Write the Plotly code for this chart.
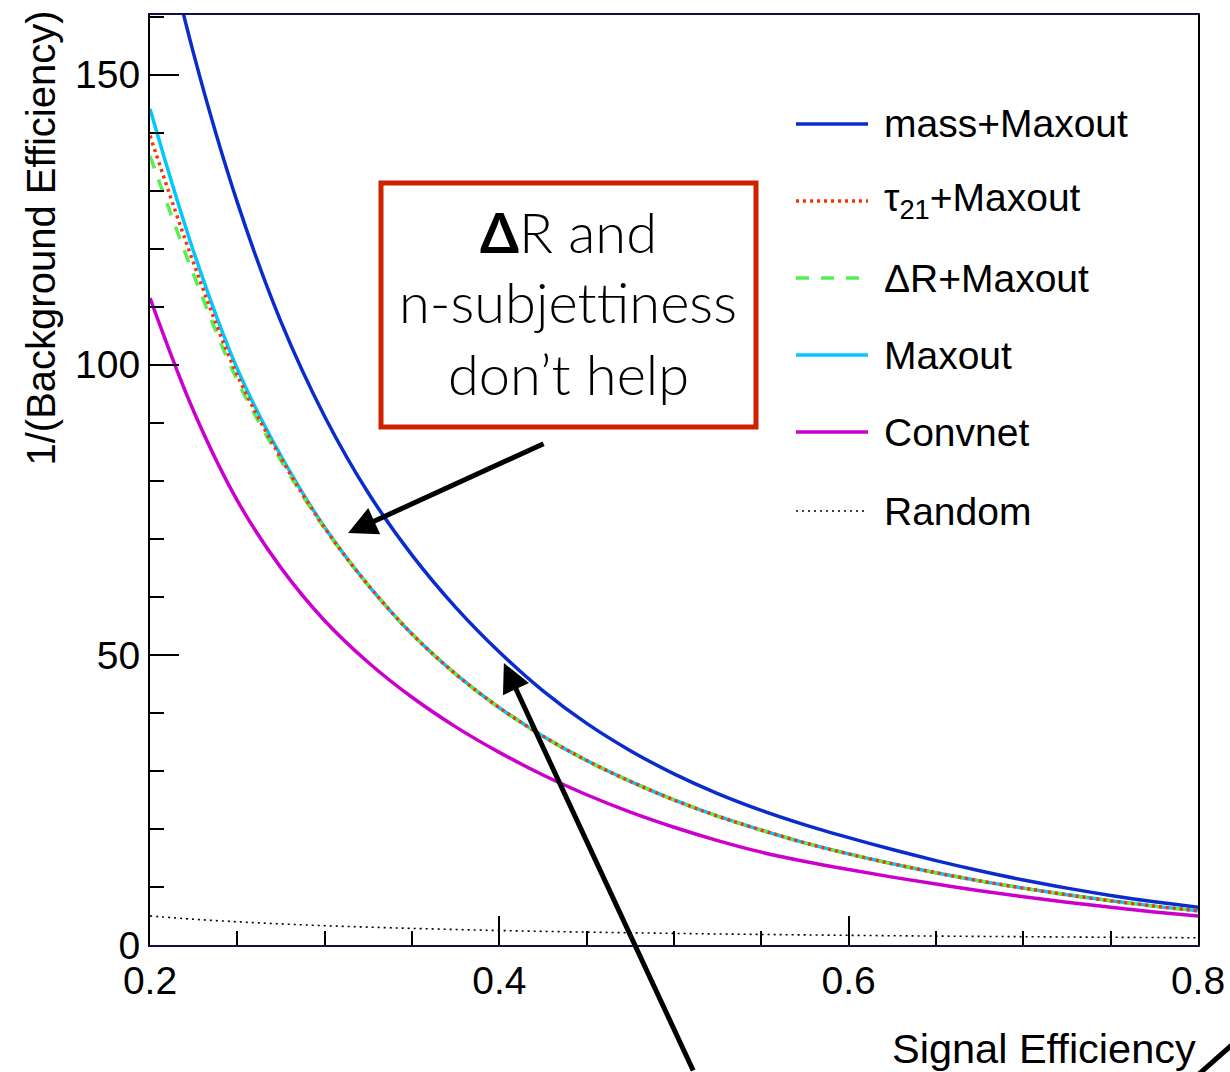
import plotly.graph_objects as go

# Signal efficiency grid shared by all ROC curves
sig_eff = [0.2, 0.225, 0.25, 0.275, 0.3, 0.325, 0.35, 0.375, 0.4, 0.425,
           0.45, 0.475, 0.5, 0.525, 0.55, 0.575, 0.6, 0.625, 0.65, 0.675,
           0.7, 0.725, 0.75, 0.775, 0.8]

# 1/(background efficiency) for each tagger
mass_maxout = [185, 153.6, 128, 107.4, 91.1, 77.9, 67.2, 58.2, 50.5, 43.8,
               38.2, 33.5, 29.5, 26.1, 23.2, 20.7, 18.5, 16.45, 14.55, 12.8,
               11.2, 9.8, 8.55, 7.45, 6.5]
tau21_maxout = [139.5, 117.5, 98.2, 83.9, 71.9, 62.0, 53.6, 46.7, 40.9, 36.0,
                31.8, 28.2, 25.0, 22.2, 19.8, 17.6, 15.7, 14.0, 12.45, 11.05,
                9.8, 8.65, 7.62, 6.7, 5.9]
dr_maxout = [136, 115.5, 97.3, 83.5, 71.8, 62.0, 53.6, 46.7, 40.9, 36.0,
             31.8, 28.2, 25.0, 22.2, 19.8, 17.6, 15.7, 14.0, 12.45, 11.05,
             9.8, 8.65, 7.62, 6.7, 5.9]
maxout = [144.1, 119.5, 99.3, 84.3, 72.0, 62.0, 53.6, 46.7, 40.9, 36.0,
          31.8, 28.2, 25.0, 22.2, 19.8, 17.6, 15.7, 14.0, 12.45, 11.05,
          9.8, 8.65, 7.62, 6.7, 5.9]
convnet = [111.5, 92.0, 76.6, 65.0, 55.9, 48.7, 42.7, 37.6, 33.2, 29.3,
           25.9, 22.9, 20.3, 18.0, 16.0, 14.4, 13.0, 11.7, 10.5, 9.35,
           8.3, 7.35, 6.5, 5.7, 5.0]
random_tag = [5.0, 4.44, 4.0, 3.64, 3.33, 3.08, 2.86, 2.67, 2.5, 2.35,
              2.22, 2.11, 2.0, 1.9, 1.82, 1.74, 1.67, 1.6, 1.54, 1.48,
              1.43, 1.38, 1.33, 1.29, 1.25]

x_ticks = [0.2, 0.4, 0.6, 0.8]
y_ticks = [0, 50, 100, 150]

# Call-out text, one entry per line (ZWNJ keeps "tt" from forming a ligature)
callout_lines = ["<b>Δ</b>R and", "n-subjet\u200ctiness", "don’t help"]

series = [
    # name, values, colour, width, dash
    ("mass+Maxout", mass_maxout, "#0a2ccc", 3.5, "solid"),
    ("Maxout", maxout, "#00c8ff", 3.5, "solid"),
    ("ΔR+Maxout", dr_maxout, "#55ee55", 3.5, "13px,12px"),
    ("τ<sub>21</sub>+Maxout", tau21_maxout, "#ff3300", 3.5, "3px,4px"),
    ("Convnet", convnet, "#cc00cc", 3.5, "solid"),
    ("Random", random_tag, "#000000", 1.6, "2px,4px"),
]
legend_order = ["mass+Maxout", "τ<sub>21</sub>+Maxout", "ΔR+Maxout",
                "Maxout", "Convnet", "Random"]

fig = go.Figure()
for name, vals, col, w, dash in series:
    fig.add_trace(go.Scatter(
        x=sig_eff, y=vals, mode="lines", name=name,
        line=dict(color=col, width=w, dash=dash, shape="spline", smoothing=1.0),
        showlegend=False, hoverinfo="skip"))

W, H = 1230, 1072
L, R, T, B = 150, 32, 15, 127
pw, ph = W - L - R, H - T - B


def px_x(p):
    return (p - L) / pw


def px_y(p):
    return (H - B - p) / ph


TXT = "Liberation Sans, Arial, sans-serif"
shapes = []
annotations = []

# Legend block on the right
style = {n: (c, w, d) for n, _, c, w, d in series}
row_y = [124, 201, 278, 355, 432, 511]
for name, ry in zip(legend_order, row_y):
    c, w, d = style[name]
    shapes.append(dict(type="line", xref="paper", yref="paper",
                       x0=px_x(796), x1=px_x(868), y0=px_y(ry), y1=px_y(ry),
                       line=dict(color=c, width=max(w, 1.6), dash=d)))
    annotations.append(dict(text=name, xref="paper", yref="paper",
                            x=px_x(882), y=px_y(ry), xanchor="left", yanchor="middle",
                            showarrow=False, font=dict(family=TXT, size=39, color="black")))

# Call-out box
shapes.append(dict(type="rect", xref="paper", yref="paper",
                   x0=px_x(381), x1=px_x(756), y0=px_y(427), y1=px_y(183),
                   line=dict(color="#cc2200", width=5), fillcolor="rgba(0,0,0,0)"))
for line_txt, ly in zip(callout_lines, [232, 301, 374]):
    annotations.append(dict(text=line_txt, xref="paper", yref="paper",
                            x=px_x(568), y=px_y(ly), xanchor="center", yanchor="middle",
                            showarrow=False,
                            font=dict(family="Lato, Roboto, sans-serif",
                                      size=56, color="black", weight=300)))

# Arrows
annotations.append(dict(text="", x=0.3134, y=71.0, xref="x", yref="y",
                        ax=197, ay=-90, axref="pixel", ayref="pixel",
                        showarrow=True, arrowhead=2, arrowsize=1.15, arrowwidth=5,
                        arrowcolor="black"))
annotations.append(dict(text="", x=0.4026, y=48.6, xref="x", yref="y",
                        ax=190, ay=418, axref="pixel", ayref="pixel",
                        showarrow=True, arrowhead=2, arrowsize=1.15, arrowwidth=5,
                        arrowcolor="black"))
shapes.append(dict(type="line", xref="paper", yref="paper",
                   x0=px_x(1199), y0=px_y(1074), x1=px_x(1234), y1=px_y(1043),
                   line=dict(color="black", width=5)))

# Axis titles
annotations.append(dict(text="1/(Background Efficiency)", xref="paper", yref="paper",
                        x=px_x(40), y=1.0, xanchor="center", yanchor="top", yshift=6,
                        textangle=-90, showarrow=False,
                        font=dict(family=TXT, size=40, color="black")))
annotations.append(dict(text="Signal Efficiency", xref="paper", yref="paper",
                        x=1.0, y=px_y(1048), xanchor="right", yanchor="middle",
                        showarrow=False, font=dict(family=TXT, size=41.5, color="black")))

fig.update_layout(
    width=W, height=H,
    margin=dict(l=L, r=R, t=T, b=B, pad=0, autoexpand=False),
    paper_bgcolor="white", plot_bgcolor="white",
    shapes=shapes, annotations=annotations,
    showlegend=False,
    font=dict(family=TXT, color="black"),
)
fig.update_xaxes(
    range=[0.2, 0.8], tickvals=x_ticks, ticktext=[f"{v:.1f}" for v in x_ticks],
    ticks="inside", ticklen=29, tickwidth=2, tickcolor="black",
    minor=dict(dtick=0.05, tick0=0.2, ticks="inside", ticklen=14, tickwidth=2, tickcolor="black"),
    showline=True, linecolor="#10104a", linewidth=2, mirror=True,
    showgrid=False, zeroline=False, automargin=False,
    tickfont=dict(family=TXT, size=39, color="black"),
)
fig.update_yaxes(
    range=[0, 160.3], tickvals=y_ticks, ticktext=[str(v) for v in y_ticks],
    ticks="inside", ticklen=29, tickwidth=2, tickcolor="black",
    minor=dict(dtick=10, tick0=0, ticks="inside", ticklen=14, tickwidth=2, tickcolor="black"),
    showline=True, linecolor="black", linewidth=2, mirror=True,
    showgrid=False, zeroline=False, automargin=False,
    tickfont=dict(family=TXT, size=39, color="black"),
)

fig.write_html("out.html")
